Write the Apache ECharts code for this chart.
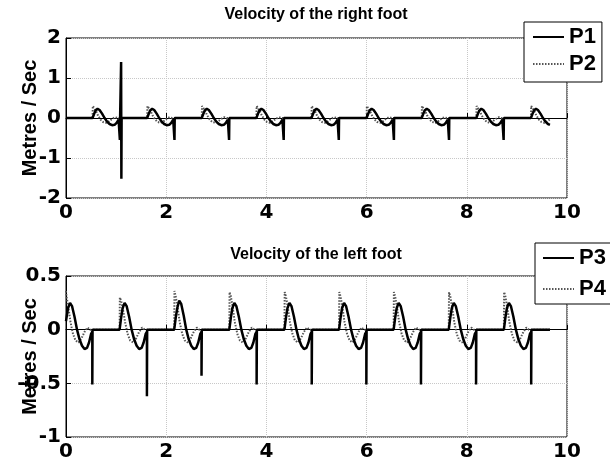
<!DOCTYPE html>
<html>
<head>
<meta charset="utf-8">
<script src="https://cdn.jsdelivr.net/npm/echarts@6/dist/echarts.min.js"></script>
<style>html,body{margin:0;padding:0;background:#fff}#c{width:610px;height:466px}</style>
</head>
<body>
<div id="c"></div>
<script>
// ---- data ----
const xTicks = [0, 2, 4, 6, 8, 10];
const rightTicks = [-2, -1, 0, 1, 2];
const leftTicks = [-1, -0.5, 0, 0.5];

const P1 = [[0,0],
[0.53,0],[0.56,0.10],[0.59,0.19],[0.63,0.23],[0.67,0.2],[0.72,0.11],[0.77,0],[0.82,-0.09],[0.87,-0.15],[0.92,-0.18],[0.97,-0.17],[1.01,-0.12],[1.05,-0.04],[1.075,-0.02],[1.075,-0.55],[1.08,0],[1.10,0],[1.10,1.4],[1.105,-1.52],[1.11,0],
[1.62,0],[1.65,0.10],[1.68,0.19],[1.72,0.23],[1.76,0.2],[1.81,0.11],[1.86,0],[1.91,-0.09],[1.96,-0.15],[2.01,-0.18],[2.06,-0.17],[2.10,-0.12],[2.14,-0.04],[2.165,-0.02],[2.165,-0.55],[2.17,0],
[2.71,0],[2.74,0.10],[2.77,0.19],[2.81,0.23],[2.85,0.2],[2.9,0.11],[2.95,0],[3.0,-0.09],[3.05,-0.15],[3.1,-0.18],[3.15,-0.17],[3.19,-0.12],[3.23,-0.04],[3.255,-0.02],[3.255,-0.55],[3.26,0],
[3.8,0],[3.83,0.1],[3.86,0.19],[3.9,0.23],[3.94,0.2],[3.99,0.11],[4.04,0],[4.09,-0.09],[4.14,-0.15],[4.19,-0.18],[4.24,-0.17],[4.28,-0.12],[4.32,-0.04],[4.345,-0.02],[4.345,-0.55],[4.35,0],
[4.9,0],[4.93,0.1],[4.96,0.19],[5.0,0.23],[5.04,0.2],[5.09,0.11],[5.14,0],[5.19,-0.09],[5.24,-0.15],[5.29,-0.18],[5.34,-0.17],[5.38,-0.12],[5.42,-0.04],[5.445,-0.02],[5.445,-0.55],[5.45,0],
[6.0,0],[6.03,0.1],[6.06,0.19],[6.1,0.23],[6.14,0.2],[6.19,0.11],[6.24,0],[6.29,-0.09],[6.34,-0.15],[6.39,-0.18],[6.44,-0.17],[6.48,-0.12],[6.52,-0.04],[6.545,-0.02],[6.545,-0.55],[6.55,0],
[7.1,0],[7.13,0.1],[7.16,0.19],[7.2,0.23],[7.24,0.2],[7.29,0.11],[7.34,0],[7.39,-0.09],[7.44,-0.15],[7.49,-0.18],[7.54,-0.17],[7.58,-0.12],[7.62,-0.04],[7.645,-0.02],[7.645,-0.55],[7.65,0],
[8.19,0],[8.22,0.1],[8.25,0.19],[8.29,0.23],[8.33,0.2],[8.38,0.11],[8.43,0],[8.48,-0.09],[8.53,-0.15],[8.58,-0.18],[8.63,-0.17],[8.67,-0.12],[8.71,-0.04],[8.735,-0.02],[8.735,-0.55],[8.74,0],
[9.28,0],[9.31,0.1],[9.34,0.19],[9.38,0.23],[9.42,0.2],[9.47,0.11],[9.52,0],[9.57,-0.09],[9.62,-0.15],[9.66,-0.17]];

const P2 = [[0,0],
[0.53,0],[0.535,0.3],[0.56,0.27],[0.6,0.17],[0.64,0.06],[0.69,-0.04],[0.74,-0.1],[0.8,-0.12],[0.86,-0.08],[0.92,-0.02],[0.98,0.02],[1.03,0],[1.07,0],
[1.62,0],[1.625,0.3],[1.65,0.27],[1.69,0.17],[1.73,0.06],[1.78,-0.04],[1.83,-0.1],[1.89,-0.12],[1.95,-0.08],[2.01,-0.02],[2.07,0.02],[2.12,0],[2.16,0],
[2.71,0],[2.715,0.3],[2.74,0.27],[2.78,0.17],[2.82,0.06],[2.87,-0.04],[2.92,-0.1],[2.98,-0.12],[3.04,-0.08],[3.1,-0.02],[3.16,0.02],[3.21,0],[3.25,0],
[3.8,0],[3.805,0.3],[3.83,0.27],[3.87,0.17],[3.91,0.06],[3.96,-0.04],[4.01,-0.1],[4.07,-0.12],[4.13,-0.08],[4.19,-0.02],[4.25,0.02],[4.3,0],[4.34,0],
[4.9,0],[4.905,0.3],[4.93,0.27],[4.97,0.17],[5.01,0.06],[5.06,-0.04],[5.11,-0.1],[5.17,-0.12],[5.23,-0.08],[5.29,-0.02],[5.35,0.02],[5.4,0],[5.44,0],
[6.0,0],[6.005,0.3],[6.03,0.27],[6.07,0.17],[6.11,0.06],[6.16,-0.04],[6.21,-0.1],[6.27,-0.12],[6.33,-0.08],[6.39,-0.02],[6.45,0.02],[6.5,0],[6.54,0],
[7.1,0],[7.105,0.3],[7.13,0.27],[7.17,0.17],[7.21,0.06],[7.26,-0.04],[7.31,-0.1],[7.37,-0.12],[7.43,-0.08],[7.49,-0.02],[7.55,0.02],[7.6,0],[7.64,0],
[8.19,0],[8.195,0.3],[8.22,0.27],[8.26,0.17],[8.3,0.06],[8.35,-0.04],[8.4,-0.1],[8.46,-0.12],[8.52,-0.08],[8.58,-0.02],[8.64,0.02],[8.69,0],[8.73,0],
[9.28,0],[9.285,0.3],[9.31,0.27],[9.35,0.17],[9.39,0.06],[9.44,-0.04],[9.49,-0.1],[9.55,-0.12],[9.61,-0.08],[9.66,-0.03]];

const P3 = [[0,0.08],[0.04,0.2],[0.08,0.25],[0.12,0.22],[0.17,0.12],[0.22,0],[0.27,-0.09],[0.32,-0.15],[0.37,-0.18],[0.42,-0.17],[0.46,-0.12],[0.5,-0.04],[0.525,-0.02],[0.525,-0.51],[0.53,0],
[1.07,0],[1.1,0.11],[1.13,0.2],[1.17,0.25],[1.21,0.22],[1.26,0.12],[1.31,0],[1.36,-0.09],[1.41,-0.15],[1.46,-0.18],[1.51,-0.17],[1.55,-0.12],[1.59,-0.04],[1.615,-0.02],[1.615,-0.62],[1.62,0],
[2.16,0],[2.19,0.11],[2.22,0.2],[2.26,0.27],[2.3,0.24],[2.35,0.13],[2.4,0],[2.45,-0.09],[2.5,-0.15],[2.55,-0.18],[2.6,-0.17],[2.64,-0.12],[2.68,-0.04],[2.705,-0.02],[2.705,-0.43],[2.71,0],
[3.26,0],[3.29,0.11],[3.32,0.2],[3.36,0.25],[3.4,0.22],[3.45,0.12],[3.5,0],[3.55,-0.09],[3.6,-0.15],[3.65,-0.18],[3.7,-0.17],[3.74,-0.12],[3.78,-0.04],[3.805,-0.02],[3.805,-0.51],[3.81,0],
[4.36,0],[4.39,0.11],[4.42,0.2],[4.46,0.25],[4.5,0.22],[4.55,0.12],[4.6,0],[4.65,-0.09],[4.7,-0.15],[4.75,-0.18],[4.8,-0.17],[4.84,-0.12],[4.88,-0.04],[4.905,-0.02],[4.905,-0.51],[4.91,0],
[5.45,0],[5.48,0.11],[5.51,0.2],[5.55,0.25],[5.59,0.22],[5.64,0.12],[5.69,0],[5.74,-0.09],[5.79,-0.15],[5.84,-0.18],[5.89,-0.17],[5.93,-0.12],[5.97,-0.04],[5.995,-0.02],[5.995,-0.51],[6.0,0],
[6.54,0],[6.57,0.11],[6.6,0.2],[6.64,0.25],[6.68,0.22],[6.73,0.12],[6.78,0],[6.83,-0.09],[6.88,-0.15],[6.93,-0.18],[6.98,-0.17],[7.02,-0.12],[7.06,-0.04],[7.085,-0.02],[7.085,-0.51],[7.09,0],
[7.64,0],[7.67,0.11],[7.7,0.2],[7.74,0.25],[7.78,0.22],[7.83,0.12],[7.88,0],[7.93,-0.09],[7.98,-0.15],[8.03,-0.18],[8.08,-0.17],[8.12,-0.12],[8.16,-0.04],[8.185,-0.02],[8.185,-0.51],[8.19,0],
[8.74,0],[8.77,0.11],[8.8,0.2],[8.84,0.25],[8.88,0.22],[8.93,0.12],[8.98,0],[9.03,-0.09],[9.08,-0.15],[9.13,-0.18],[9.18,-0.17],[9.22,-0.12],[9.26,-0.04],[9.285,-0.02],[9.285,-0.51],[9.29,0],[9.66,0]];

const P4 = [[0,0.36],[0.01,0.31],[0.05,0.2],[0.09,0.07],[0.14,-0.04],[0.19,-0.1],[0.25,-0.12],[0.31,-0.08],[0.37,-0.02],[0.43,0.02],[0.48,0],[0.52,0],
[1.07,0],[1.075,0.30],[1.1,0.27],[1.14,0.18],[1.18,0.07],[1.23,-0.04],[1.28,-0.1],[1.34,-0.12],[1.4,-0.08],[1.46,-0.02],[1.52,0.02],[1.57,0],[1.61,0],
[2.16,0],[2.165,0.36],[2.19,0.31],[2.23,0.2],[2.27,0.07],[2.32,-0.04],[2.37,-0.1],[2.43,-0.12],[2.49,-0.08],[2.55,-0.02],[2.61,0.02],[2.66,0],[2.7,0],
[3.26,0],[3.265,0.35],[3.29,0.31],[3.33,0.2],[3.37,0.07],[3.42,-0.04],[3.47,-0.1],[3.53,-0.12],[3.59,-0.08],[3.65,-0.02],[3.71,0.02],[3.76,0],[3.8,0],
[4.36,0],[4.365,0.35],[4.39,0.31],[4.43,0.2],[4.47,0.07],[4.52,-0.04],[4.57,-0.1],[4.63,-0.12],[4.69,-0.08],[4.75,-0.02],[4.81,0.02],[4.86,0],[4.9,0],
[5.45,0],[5.455,0.35],[5.48,0.31],[5.52,0.2],[5.56,0.07],[5.61,-0.04],[5.66,-0.1],[5.72,-0.12],[5.78,-0.08],[5.84,-0.02],[5.9,0.02],[5.95,0],[5.99,0],
[6.54,0],[6.545,0.35],[6.57,0.31],[6.61,0.2],[6.65,0.07],[6.7,-0.04],[6.75,-0.1],[6.81,-0.12],[6.87,-0.08],[6.93,-0.02],[6.99,0.02],[7.04,0],[7.08,0],
[7.64,0],[7.645,0.35],[7.67,0.31],[7.71,0.2],[7.75,0.07],[7.8,-0.04],[7.85,-0.1],[7.91,-0.12],[7.97,-0.08],[8.03,-0.02],[8.09,0.02],[8.14,0],[8.18,0],
[8.74,0],[8.745,0.35],[8.77,0.31],[8.81,0.2],[8.85,0.07],[8.9,-0.04],[8.95,-0.1],[9.01,-0.12],[9.07,-0.08],[9.13,-0.02],[9.19,0.02],[9.24,0],[9.28,0],[9.66,0]];

const titles = ['Velocity of the right foot', 'Velocity of the left foot'];
const yName = 'Metres / Sec';

// ---- chart ----
const FONT = '"Liberation Sans", Arial, sans-serif';
const TICKFONT = '"DejaVu Sans", sans-serif';
const chart = echarts.init(document.getElementById('c'), null, {renderer: 'canvas'});

function xAxis(gi) {
  return {
    gridIndex: gi, type: 'value', min: xTicks[0], max: xTicks[xTicks.length - 1], interval: 2,
    axisLine: {show: true, lineStyle: {color: '#000', width: 1}},
    axisTick: {show: true, inside: true, length: 5, lineStyle: {color: '#000'}},
    axisLabel: {color: '#000', fontFamily: TICKFONT, fontWeight: 'bold', fontSize: 20, margin: 5, hideOverlap: false},
    splitLine: {show: true, lineStyle: {color: '#c8c8c8', type: 'dotted', width: 1}}
  };
}
function yAxis(gi, ticks) {
  return {
    gridIndex: gi, type: 'value', min: ticks[0], max: ticks[ticks.length - 1],
    interval: ticks[1] - ticks[0],
    name: yName, nameLocation: 'middle', nameGap: 26, nameMoveOverlap: false,
    nameTextStyle: {color: '#000', fontFamily: FONT, fontWeight: 'bold', fontSize: 20},
    axisLine: {show: true, lineStyle: {color: '#000', width: 1}},
    axisTick: {show: true, inside: true, length: 5, lineStyle: {color: '#000'}},
    axisLabel: {color: '#000', fontFamily: TICKFONT, fontWeight: 'bold', fontSize: 20, margin: 5, hideOverlap: false},
    splitLine: {show: true, lineStyle: {color: '#c8c8c8', type: 'dotted', width: 1}}
  };
}
const solid = {color: '#000', width: 2.5, type: 'solid'};
const dotted = {color: '#555', width: 2, type: [1.5, 1.5]};
function line(name, data, gi, ls, z) {
  return {name, type: 'line', data, xAxisIndex: gi, yAxisIndex: gi, showSymbol: false, symbol: 'none',
    lineStyle: ls, itemStyle: {color: ls.color}, z, animation: false, silent: true};
}
const legendBase = {
  orient: 'vertical', backgroundColor: '#fff', borderColor: '#000', borderWidth: 1,
  itemWidth: 31, itemHeight: 14, itemGap: 5,
  itemStyle: {opacity: 0},
  textStyle: {color: '#000', fontFamily: FONT, fontWeight: 'bold', fontSize: 22, lineHeight: 22},
  selectedMode: false
};
const gridBase = {show: true, borderColor: '#000', borderWidth: 1, backgroundColor: 'transparent',
  containLabel: false, outerBoundsMode: 'none'};

chart.setOption({
  animation: false,
  backgroundColor: '#fff',
  title: [
    {text: titles[0], left: 316, top: 7, textAlign: 'center', padding: 0,
     textStyle: {color: '#000', fontFamily: FONT, fontWeight: 'bold', fontSize: 16}},
    {text: titles[1], left: 316, top: 247, textAlign: 'center', padding: 0,
     textStyle: {color: '#000', fontFamily: FONT, fontWeight: 'bold', fontSize: 16}}
  ],
  grid: [
    Object.assign({}, gridBase, {left: 66, top: 38, width: 501, height: 160}),
    Object.assign({}, gridBase, {left: 66, top: 276, width: 501, height: 161})
  ],
  xAxis: [xAxis(0), xAxis(1)],
  yAxis: [yAxis(0, rightTicks), yAxis(1, leftTicks)],
  legend: [
    Object.assign({}, legendBase, {data: ['P1', 'P2'], left: 524, top: 22, padding: [4, 6, 7, 8]}),
    Object.assign({}, legendBase, {data: ['P3', 'P4'], left: 535, top: 243, itemGap: 9, padding: [4, 20, 4, 7]})
  ],
  series: [
    line('P1', P1, 0, solid, 3),
    line('P2', P2, 0, dotted, 2),
    line('P3', P3, 1, solid, 3),
    line('P4', P4, 1, dotted, 2)
  ]
});
</script>
</body>
</html>
